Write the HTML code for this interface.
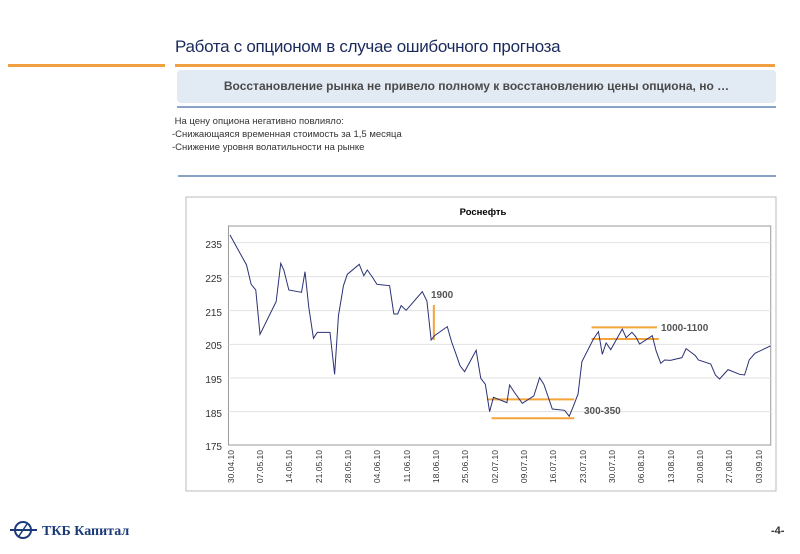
<!DOCTYPE html>
<html><head><meta charset="utf-8"><style>
body{margin:0;width:800px;height:554px;background:#fff;position:relative;overflow:hidden;font-family:"Liberation Sans","Noto Sans CJK SC",sans-serif}
.a{position:absolute}
</style></head><body>
<div class="a" style="left:175px;top:37px;font-size:17px;color:#1b2a5c;letter-spacing:-0.3px">Работа с опционом в случае ошибочного прогноза</div>
<div class="a" style="left:8px;top:64px;width:157px;height:3px;background:#f0a040"></div>
<div class="a" style="left:175px;top:64px;width:600px;height:3px;background:#f0a040"></div>
<div class="a" style="left:177px;top:70px;width:599px;height:33px;background:#e2eaf4;border-radius:4px;text-align:center;line-height:33px;font-size:12px;font-weight:bold;color:#4a4a4a">Восстановление рынка не привело полному к восстановлению цены опциона, но …</div>
<div class="a" style="left:177px;top:106px;width:599px;height:2px;background:#8aa2c6"></div>
<div class="a" style="left:172px;top:115px;font-size:9.5px;color:#333;line-height:13px">&nbsp;На цену опциона негативно повлияло:<br>-Снижающаяся временная стоимость за 1,5 месяца<br>-Снижение уровня волатильности на рынке</div>
<div class="a" style="left:178px;top:175px;width:598px;height:2px;background:#8aa2c6"></div>
<svg class="a" style="left:0;top:0" width="800" height="554">
<rect x="186" y="197" width="590" height="294" fill="#fff" stroke="#bbb"/>
<text x="483" y="215" font-size="9.5" font-weight="bold" text-anchor="middle" font-family="Liberation Sans">Роснефть</text>
<g transform="translate(180,195) scale(0.3846,0.3333)">
<rect x="126" y="93" width="1410" height="657" fill="#fff" stroke="#999" vector-effect="non-scaling-stroke"/>
<g stroke="#e2e2e2" vector-effect="non-scaling-stroke">
<line x1="126" x2="1536" y1="143" y2="143" vector-effect="non-scaling-stroke"/><line x1="126" x2="1536" y1="245" y2="245" vector-effect="non-scaling-stroke"/><line x1="126" x2="1536" y1="347" y2="347" vector-effect="non-scaling-stroke"/><line x1="126" x2="1536" y1="448" y2="448" vector-effect="non-scaling-stroke"/><line x1="126" x2="1536" y1="549" y2="549" vector-effect="non-scaling-stroke"/><line x1="126" x2="1536" y1="650" y2="650" vector-effect="non-scaling-stroke"/>
</g>
<g stroke="#f5a43a" stroke-width="2" vector-effect="non-scaling-stroke">
<line x1="798" y1="613" x2="1025" y2="613" vector-effect="non-scaling-stroke"/>
<line x1="810" y1="670" x2="1025" y2="670" vector-effect="non-scaling-stroke"/>
<line x1="1070" y1="397" x2="1240" y2="397" vector-effect="non-scaling-stroke"/>
<line x1="1070" y1="432" x2="1245" y2="432" vector-effect="non-scaling-stroke"/>
<line x1="660" y1="330" x2="660" y2="435" vector-effect="non-scaling-stroke"/>
</g>
<polyline fill="none" stroke="#2a3274" stroke-width="1" vector-effect="non-scaling-stroke" points="130,120 173,210 185,268 197,285 208,418 250,320 262,205 270,225 283,285 316,292 325,230 335,338 347,430 357,412 390,412 402,538 412,362 425,272 435,238 466,208 478,242 487,225 500,246 512,268 545,272 556,357 566,357 575,332 588,346 630,290 642,318 653,435 662,422 695,395 706,440 716,472 728,512 740,530 770,466 782,550 794,568 805,650 815,607 850,623 857,570 870,593 890,625 920,603 935,548 946,568 958,608 968,642 1000,646 1012,664 1022,636 1035,597 1045,500 1075,432 1088,410 1098,478 1108,444 1120,464 1150,402 1160,428 1175,412 1185,425 1195,447 1228,422 1238,468 1250,505 1260,495 1275,496 1305,488 1316,461 1340,482 1348,495 1380,507 1392,540 1403,552 1425,524 1455,538 1468,540 1480,495 1495,475 1535,453"/>
</g>
<g font-size="10" fill="#333" font-family="Liberation Sans" text-anchor="end">
<text x="222" y="248">235</text><text x="222" y="282">225</text><text x="222" y="316">215</text><text x="222" y="349">205</text><text x="222" y="383">195</text><text x="222" y="417">185</text><text x="222" y="450">175</text>
</g>
<g font-size="8.5" fill="#333" font-family="Liberation Sans" text-anchor="end">
<text transform="translate(234,450) rotate(-90)">30.04.10</text>
<text transform="translate(263,450) rotate(-90)">07.05.10</text>
<text transform="translate(292,450) rotate(-90)">14.05.10</text>
<text transform="translate(322,450) rotate(-90)">21.05.10</text>
<text transform="translate(351,450) rotate(-90)">28.05.10</text>
<text transform="translate(380,450) rotate(-90)">04.06.10</text>
<text transform="translate(410,450) rotate(-90)">11.06.10</text>
<text transform="translate(439,450) rotate(-90)">18.06.10</text>
<text transform="translate(468,450) rotate(-90)">25.06.10</text>
<text transform="translate(498,450) rotate(-90)">02.07.10</text>
<text transform="translate(527,450) rotate(-90)">09.07.10</text>
<text transform="translate(556,450) rotate(-90)">16.07.10</text>
<text transform="translate(586,450) rotate(-90)">23.07.10</text>
<text transform="translate(615,450) rotate(-90)">30.07.10</text>
<text transform="translate(644,450) rotate(-90)">06.08.10</text>
<text transform="translate(674,450) rotate(-90)">13.08.10</text>
<text transform="translate(703,450) rotate(-90)">20.08.10</text>
<text transform="translate(732,450) rotate(-90)">27.08.10</text>
<text transform="translate(762,450) rotate(-90)">03.09.10</text>
</g>
<g font-size="10" font-weight="bold" fill="#555" font-family="Liberation Sans">
<text x="431" y="298">1900</text>
<text x="584" y="414">300-350</text>
<text x="661" y="331">1000-1100</text>
</g>
<g stroke="#1b3a7a" fill="none" stroke-width="2">
<circle cx="23" cy="530" r="8"/>
<line x1="10" y1="530" x2="37" y2="530"/>
<path d="M27 524 L19 536" stroke-width="1.5"/>
</g>
<text x="42" y="535" font-size="14" font-weight="bold" fill="#1b3a7a" font-family="Liberation Serif">ТКБ Капитал</text>
<text x="771" y="534" font-size="11" font-weight="bold" fill="#333" font-family="Liberation Sans">-4-</text>
</svg>
</body></html>
